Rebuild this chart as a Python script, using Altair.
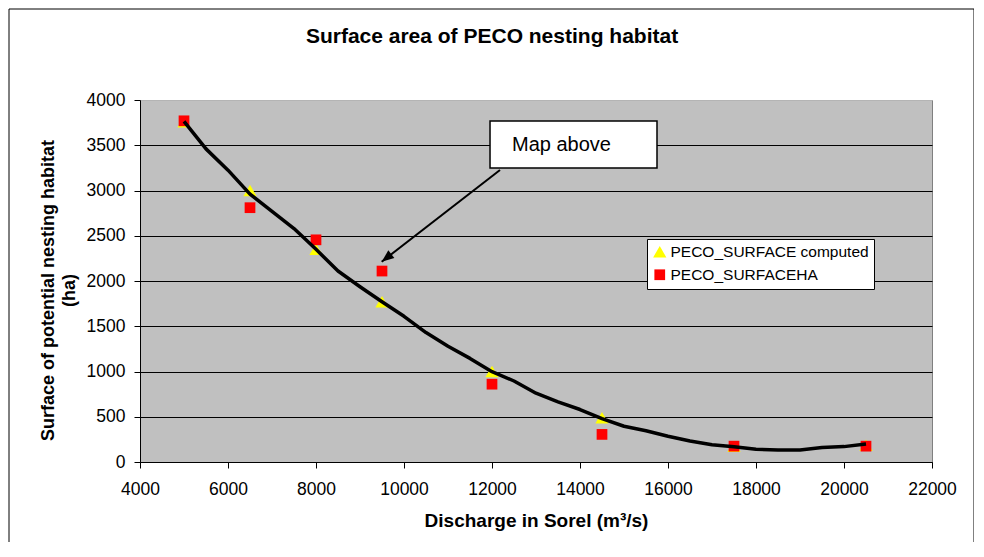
import altair as alt
import pandas as pd

# ---------------- data ----------------
series_names = ["PECO_SURFACE computed", "PECO_SURFACEHA"]

discharge = [5000, 6500, 8000, 9500, 12000, 14500, 17500, 20500]
surface_computed = [3760, 3000, 2350, 1770, 1000, 490, 175, 185]
surface_ha = [3770, 2810, 2455, 2110, 860, 305, 175, 175]

curve_discharge = [5000, 5500, 6000, 6500, 7000, 7500, 8000, 8500, 9000, 9500,
                   10000, 10500, 11000, 11500, 12000, 12500, 13000, 13500, 14000,
                   14500, 15000, 15500, 16000, 16500, 17000, 17500, 18000, 18500,
                   19000, 19500, 20000, 20500]
curve_surface = [3763, 3460, 3225, 2960, 2770, 2580, 2350, 2110, 1937, 1770,
                 1610, 1430, 1280, 1145, 998, 895, 760, 665, 580,
                 480, 395, 345, 285, 232, 190, 168, 140, 133,
                 133, 160, 170, 200]

x_ticks = [4000, 6000, 8000, 10000, 12000, 14000, 16000, 18000, 20000, 22000]
y_ticks = [0, 500, 1000, 1500, 2000, 2500, 3000, 3500, 4000]

callout_label = ["Map above"]
callout_box_x = [11955, 15750]
callout_box_y = [3249, 3768]
callout_text_at = [12455, 3503]
arrow_from = [12182, 3227]
arrow_to = [9493, 2213]

# ---------------- tables ----------------
pts_df = pd.DataFrame({
    "discharge": discharge + discharge,
    "surface": surface_computed + surface_ha,
    "series": [series_names[0]] * len(discharge) + [series_names[1]] * len(discharge),
})
curve_df = pd.DataFrame({"discharge": curve_discharge, "surface": curve_surface})
box_df = pd.DataFrame({"discharge": [callout_box_x[0]], "discharge2": [callout_box_x[1]],
                       "surface": [callout_box_y[0]], "surface2": [callout_box_y[1]]})
text_df = pd.DataFrame({"discharge": [callout_text_at[0]], "surface": [callout_text_at[1]],
                        "label": callout_label})
arrow_df = pd.DataFrame({"discharge": [arrow_from[0]], "surface": [arrow_from[1]],
                         "discharge2": [arrow_to[0]], "surface2": [arrow_to[1]]})
tip_df = pd.DataFrame({"discharge": [arrow_to[0]], "surface": [arrow_to[1]]})
frame_df = pd.DataFrame({"k": [0]})

FONT = "Liberation Sans"

xscale = alt.Scale(domain=[4000, 22000], nice=False, zero=False)
yscale = alt.Scale(domain=[0, 4000], nice=False)

xaxis = alt.Axis(
    title="Discharge in Sorel (m³/s)", values=x_ticks, format="d", grid=False,
    tickSize=6, tickColor="black", domainColor="black", domainWidth=1,
    labelFont=FONT, labelFontSize=17.5, labelColor="black", labelPadding=12,
    titleFont=FONT, titleFontSize=19, titleFontWeight="bold", titleColor="black",
    titlePadding=14, labelFlush=False,
)
yaxis = alt.Axis(
    title=["Surface of potential nesting habitat", "(ha)"], values=y_ticks, format="d",
    grid=True, gridWidth=1,
    gridColor={"condition": {"test": "datum.value === 4000", "value": "#B4B4B4"}, "value": "black"},
    tickSize=6, tickColor="black", domainColor="black", domainWidth=1,
    labelFont=FONT, labelFontSize=17.5, labelColor="black", labelPadding=9,
    titleFont=FONT, titleFontSize=18, titleFontWeight="bold", titleColor="black",
    titleLineHeight=21, titlePadding=8, titleY=190, labelFlush=False,
)

legend = alt.Legend(
    title=None, orient="none", legendX=507, legendY=139,
    fillColor="white", strokeColor="black", padding=5,
    labelFont=FONT, labelFontSize=15.5, labelColor="black", labelOffset=3,
    labelLimit=400, symbolSize=120, symbolStrokeWidth=0, rowPadding=6,
)

frame = alt.Chart(frame_df).mark_rect(fillOpacity=0, stroke="black", strokeWidth=1).encode(
    x=alt.value(-131), x2=alt.value(834), y=alt.value(-91), y2=alt.value(560)
)

points = alt.Chart(pts_df).mark_point(filled=True, opacity=1, strokeWidth=0).encode(
    x=alt.X("discharge:Q", scale=xscale, axis=xaxis),
    y=alt.Y("surface:Q", scale=yscale, axis=yaxis),
    shape=alt.Shape("series:N", scale=alt.Scale(domain=series_names, range=["triangle-up", "square"]),
                    legend=legend),
    color=alt.Color("series:N", scale=alt.Scale(domain=series_names, range=["#FFFF00", "#FF0000"]),
                    legend=legend),
    size=alt.Size("series:N", scale=alt.Scale(domain=series_names, range=[175, 115]), legend=None),
)

line = alt.Chart(curve_df).mark_line(color="black", strokeWidth=3.5, strokeJoin="round").encode(
    x=alt.X("discharge:Q", scale=xscale),
    y=alt.Y("surface:Q", scale=yscale),
)

box = alt.Chart(box_df).mark_rect(fill="white", stroke="black", strokeWidth=1.5).encode(
    x=alt.X("discharge:Q", scale=xscale), x2="discharge2:Q",
    y=alt.Y("surface:Q", scale=yscale), y2="surface2:Q",
)

text = alt.Chart(text_df).mark_text(align="left", baseline="middle", font=FONT, fontSize=20,
                                      color="black").encode(
    x=alt.X("discharge:Q", scale=xscale),
    y=alt.Y("surface:Q", scale=yscale),
    text="label:N",
)

arrow = alt.Chart(arrow_df).mark_rule(color="black", strokeWidth=2).encode(
    x=alt.X("discharge:Q", scale=xscale), x2="discharge2:Q",
    y=alt.Y("surface:Q", scale=yscale), y2="surface2:Q",
)

tip = alt.Chart(tip_df).mark_point(shape="M0,0 L-0.4,1 L0.4,1 Z", filled=True, color="black",
                                   size=600, angle=232, opacity=1, strokeWidth=0).encode(
    x=alt.X("discharge:Q", scale=xscale),
    y=alt.Y("surface:Q", scale=yscale),
)

chart = alt.layer(frame, points, line, arrow, tip, box, text).properties(
    width=792, height=362,
    autosize=alt.AutoSizeParams(type="none"),
    padding={"left": 132, "top": 92, "right": 42, "bottom": 80},
    background="white",
    title=alt.TitleParams("Surface area of PECO nesting habitat", font=FONT, fontSize=21,
                          fontWeight="bold", color="black", anchor="middle", dx=-44, offset=-38),
).configure_view(fill="#C0C0C0", stroke="#808080", strokeWidth=1)

chart.save("out.html", embed_options={"renderer": "svg", "actions": False})
